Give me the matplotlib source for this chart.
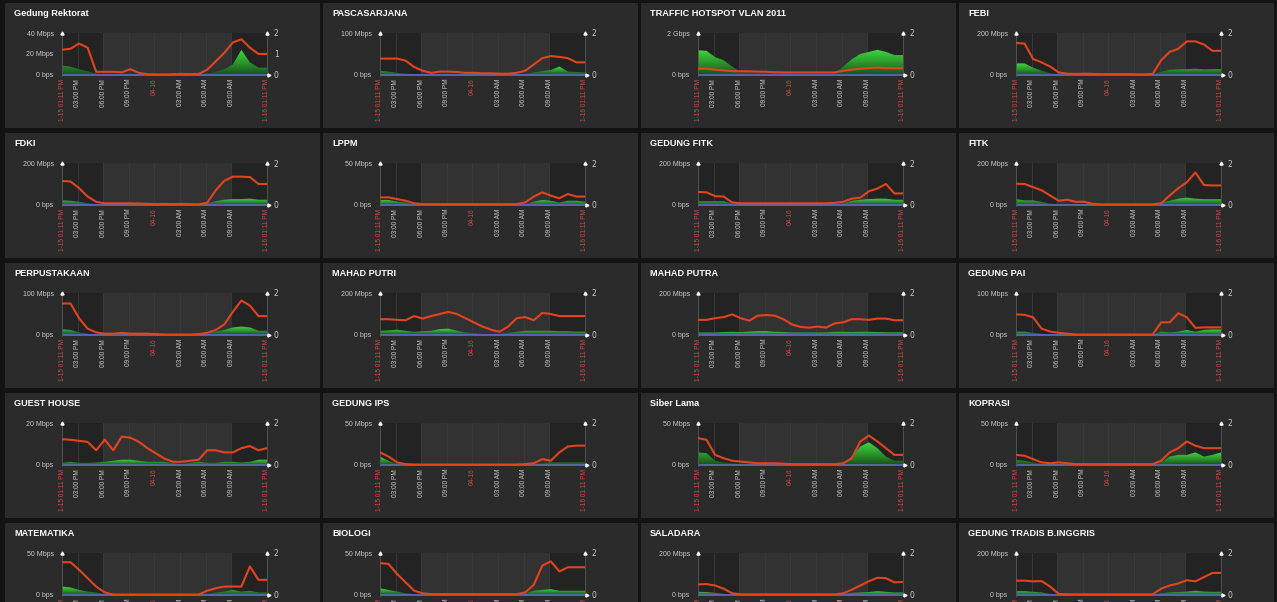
"""Bandwidth dashboard: 24 h in/out traffic per building, one small panel each."""

import matplotlib

matplotlib.use("Agg")
import matplotlib.pyplot as plt
import numpy as np
from matplotlib.colors import LinearSegmentedColormap
from matplotlib.patches import Rectangle

# --- Data (Mbps, one sample per hour from 1-15 01:11 PM to 1-16 01:11 PM) ---

HOURS = list(range(25))

TITLES = [
    "Gedung Rektorat", "PASCASARJANA", "TRAFFIC HOTSPOT VLAN 2011", "FEBI",
    "FDKI", "LPPM", "GEDUNG FITK", "FITK",
    "PERPUSTAKAAN", "MAHAD PUTRI", "MAHAD PUTRA", "GEDUNG PAI",
    "GUEST HOUSE", "GEDUNG IPS", "Siber Lama", "KOPRASI",
    "MATEMATIKA", "BIOLOGI", "SALADARA", "GEDUNG TRADIS B.INGGRIS",
]
Y_MAX = [40, 100, 2000, 200, 200, 50, 200, 200, 100, 200, 200, 100,
         20, 50, 50, 50, 50, 50, 200, 200]
Y_LABELS = [
    ["0 bps", "20 Mbps", "40 Mbps"], ["0 bps", "100 Mbps"], ["0 bps", "2 Gbps"],
    ["0 bps", "200 Mbps"], ["0 bps", "200 Mbps"], ["0 bps", "50 Mbps"],
    ["0 bps", "200 Mbps"], ["0 bps", "200 Mbps"], ["0 bps", "100 Mbps"],
    ["0 bps", "200 Mbps"], ["0 bps", "200 Mbps"], ["0 bps", "100 Mbps"],
    ["0 bps", "20 Mbps"], ["0 bps", "50 Mbps"], ["0 bps", "50 Mbps"],
    ["0 bps", "50 Mbps"], ["0 bps", "50 Mbps"], ["0 bps", "50 Mbps"],
    ["0 bps", "200 Mbps"], ["0 bps", "200 Mbps"],
]

REKTORAT_IN = [9, 8, 5.5, 3.5, 1.5, 1, 1, 0.8, 0.8, 0.5, 0.3, 0.3, 0.3, 0.3, 0.3, 0.3, 0.3, 1, 3, 5.5, 10, 24, 12, 7, 7]
REKTORAT_OUT = [24, 25, 30, 26, 3, 3, 3, 2.5, 5.5, 2, 0.7, 0.5, 0.5, 0.7, 1, 0.8, 1, 5, 13, 21, 31, 34, 26, 20, 20]
PASCA_IN = [10, 8, 5, 3, 2, 1, 1, 1, 1, 1, 1, 1, 1, 1, 1, 1, 1, 2, 6, 9, 12, 20, 8, 7, 6]
PASCA_OUT = [39, 39, 39, 34, 19, 10, 5, 8, 8, 7, 5, 5, 4, 4, 3, 3, 5, 10, 25, 40, 45, 43, 40, 30, 30]
HOTSPOT_IN = [1180, 1150, 850, 700, 400, 150, 130, 100, 120, 100, 80, 50, 50, 50, 50, 50, 80, 400, 750, 1000, 1100, 1200, 1100, 950, 950]
HOTSPOT_OUT = [300, 300, 250, 220, 180, 180, 170, 160, 150, 130, 120, 120, 120, 120, 120, 120, 120, 200, 250, 300, 330, 350, 330, 320, 320]
FEBI_IN = [55, 55, 35, 20, 8, 3, 2, 2, 2, 2, 2, 2, 2, 2, 2, 2, 3, 15, 25, 27, 28, 30, 27, 28, 28]
FEBI_OUT = [152, 150, 76, 60, 40, 12, 6, 5, 6, 5, 4, 4, 4, 4, 3, 3, 5, 70, 110, 125, 160, 160, 145, 115, 115]
FDKI_IN = [22, 20, 15, 8, 3, 2, 2, 2, 2, 2, 2, 2, 2, 2, 2, 2, 2, 8, 18, 25, 28, 28, 30, 25, 25]
FDKI_OUT = [114, 112, 80, 40, 15, 8, 8, 8, 8, 7, 5, 4, 5, 4, 5, 4, 3, 10, 70, 115, 135, 135, 133, 100, 100]
LPPM_IN = [6, 6, 4, 3, 1, 0.5, 0.5, 0.5, 0.5, 0.5, 0.5, 0.5, 0.5, 0.5, 0.5, 0.5, 0.5, 1, 4, 6, 5, 3, 5, 5, 4]
LPPM_OUT = [9, 9, 7, 5, 2, 1, 1, 1, 1, 1, 1, 1, 1, 1, 1, 1, 1, 3, 10, 15, 11, 8, 13, 10, 10]
GFITK_IN = [18, 18, 18, 18, 8, 4, 4, 4, 4, 4, 4, 4, 4, 4, 4, 4, 4, 8, 20, 25, 28, 30, 30, 25, 25]
GFITK_OUT = [62, 60, 42, 40, 12, 8, 8, 8, 8, 8, 8, 8, 8, 8, 8, 8, 10, 15, 30, 35, 65, 78, 100, 55, 55]
FITK_IN = [28, 22, 22, 15, 6, 3, 3, 3, 3, 3, 3, 3, 3, 3, 3, 3, 3, 10, 20, 30, 35, 30, 28, 28, 28]
FITK_OUT = [101, 100, 85, 70, 45, 20, 25, 15, 15, 5, 3, 3, 3, 3, 3, 3, 3, 8, 45, 80, 108, 155, 95, 93, 93]
PERPUS_IN = [14, 12, 6, 3, 1, 0.5, 0.5, 0.5, 0.5, 0.5, 0.5, 0.5, 0.5, 0.5, 0.5, 0.5, 0.5, 3, 8, 12, 18, 20, 18, 10, 10]
PERPUS_OUT = [75, 75, 40, 15, 6, 3, 3, 5, 3, 3, 3, 2, 1, 1, 1, 1, 2, 5, 12, 25, 55, 82, 70, 45, 45]
PUTRI_IN = [20, 22, 25, 20, 15, 18, 20, 28, 30, 20, 12, 8, 5, 3, 5, 10, 15, 20, 20, 20, 20, 18, 18, 16, 16]
PUTRI_OUT = [75, 75, 72, 70, 90, 78, 90, 100, 110, 100, 80, 60, 40, 25, 15, 40, 80, 85, 70, 105, 100, 90, 90, 90, 90]
PUTRA_IN = [12, 12, 12, 14, 15, 14, 16, 18, 18, 15, 14, 12, 12, 12, 12, 12, 15, 15, 14, 15, 15, 14, 13, 13, 13]
PUTRA_OUT = [72, 72, 80, 85, 98, 80, 68, 92, 95, 92, 75, 50, 38, 35, 40, 35, 55, 60, 75, 75, 72, 78, 78, 70, 70]
PAI_IN = [8, 8, 5, 3, 1, 0.5, 0.5, 0.5, 0.5, 0.5, 0.5, 0.5, 0.5, 0.5, 0.5, 0.5, 0.5, 8, 6, 8, 12, 8, 12, 13, 13]
PAI_OUT = [49, 48, 42, 15, 8, 5, 3, 1, 1, 1, 1, 1, 1, 1, 1, 1, 1, 30, 30, 52, 42, 17, 18, 18, 18]
GUEST_IN = [1, 1.5, 1, 1, 1.2, 1.5, 2, 2.5, 2.5, 2, 1.5, 1.5, 1.5, 0.8, 0.5, 1, 1.5, 1, 1, 1.5, 1.5, 1.2, 1.5, 2.5, 2.5]
GUEST_OUT = [12.3, 12, 11.5, 11, 7, 12, 7, 13.5, 13, 11, 8, 5.5, 3, 1.5, 1.5, 2, 2.5, 7, 7, 6, 6, 8, 9, 7, 8]
IPS_IN = [10, 5, 1, 0.5, 0.5, 0.5, 0.5, 0.5, 0.5, 0.5, 0.5, 0.5, 0.5, 0.5, 0.5, 0.5, 0.5, 0.5, 1, 2, 3, 3, 3, 3, 3]
IPS_OUT = [15, 10, 3, 1, 0.5, 0.5, 0.5, 0.5, 0.5, 0.5, 0.5, 0.5, 0.5, 0.5, 0.5, 0.5, 0.5, 1, 2, 7, 5, 15, 22, 23, 23]
SIBER_IN = [15, 14, 5, 3, 2, 1, 1, 1, 1, 1, 1, 1, 1, 1, 1, 1, 1, 2, 10, 22, 27, 20, 10, 5, 5]
SIBER_OUT = [32, 30, 12, 8, 5, 4, 3, 2, 2, 2, 1.5, 1, 1, 1, 1, 1, 1, 2, 8, 28, 35, 28, 20, 12, 12]
KOPRASI_IN = [6, 5, 3, 1.5, 0.5, 0.5, 0.5, 0.5, 0.5, 0.5, 0.5, 0.5, 0.5, 0.5, 0.5, 0.5, 0.5, 3, 10, 12, 12, 15, 10, 12, 15]
KOPRASI_OUT = [12, 11, 7, 3, 2, 3, 2, 1, 1, 1, 1, 1, 1, 1, 1, 1, 1, 5, 15, 20, 28, 23, 20, 20, 20]
MATEMATIKA_IN = [10, 9, 6, 4, 3, 1, 0.5, 0.5, 0.5, 0.5, 0.5, 0.5, 0.5, 0.5, 0.5, 0.5, 0.5, 1, 3, 4, 6, 4, 5, 3, 3]
MATEMATIKA_OUT = [39, 39, 30, 20, 10, 3, 0.5, 0.5, 0.5, 0.5, 0.5, 0.5, 0.5, 0.5, 0.5, 0.5, 0.5, 5, 8, 10, 10, 10, 34, 18, 18]
BIOLOGI_IN = [8, 6, 4, 2, 1, 0.5, 0.5, 0.5, 0.5, 0.5, 0.5, 0.5, 0.5, 0.5, 0.5, 0.5, 0.5, 2, 5, 6, 7, 5, 5, 5, 5]
BIOLOGI_OUT = [38, 37, 25, 15, 5, 2, 1, 1, 1, 1, 1, 1, 1, 1, 1, 1, 1, 3, 12, 35, 40, 28, 33, 33, 33]
SALADARA_IN = [15, 14, 10, 5, 2, 1, 1, 1, 1, 1, 1, 1, 1, 1, 1, 1, 1, 5, 10, 12, 14, 18, 15, 12, 12]
SALADARA_OUT = [50, 52, 45, 30, 8, 3, 3, 3, 3, 3, 3, 3, 3, 3, 3, 3, 3, 8, 25, 45, 65, 82, 80, 60, 62]
INGGRIS_IN = [18, 18, 15, 12, 5, 2, 2, 2, 2, 2, 2, 2, 2, 2, 2, 2, 2, 8, 12, 14, 16, 20, 16, 15, 15]
INGGRIS_OUT = [68, 68, 65, 66, 40, 5, 3, 3, 3, 3, 3, 3, 3, 3, 3, 3, 3, 30, 45, 55, 70, 65, 85, 105, 105]

INBOUND = [
    REKTORAT_IN, PASCA_IN, HOTSPOT_IN, FEBI_IN, FDKI_IN, LPPM_IN, GFITK_IN, FITK_IN,
    PERPUS_IN, PUTRI_IN, PUTRA_IN, PAI_IN, GUEST_IN, IPS_IN, SIBER_IN, KOPRASI_IN,
    MATEMATIKA_IN, BIOLOGI_IN, SALADARA_IN, INGGRIS_IN,
]
OUTBOUND = [
    REKTORAT_OUT, PASCA_OUT, HOTSPOT_OUT, FEBI_OUT, FDKI_OUT, LPPM_OUT, GFITK_OUT, FITK_OUT,
    PERPUS_OUT, PUTRI_OUT, PUTRA_OUT, PAI_OUT, GUEST_OUT, IPS_OUT, SIBER_OUT, KOPRASI_OUT,
    MATEMATIKA_OUT, BIOLOGI_OUT, SALADARA_OUT, INGGRIS_OUT,
]

# x ticks as clock times; offsets are hours after 13:11 on 1-15
TICK_LABELS = ["1-15 01:11 PM", "03:00 PM", "06:00 PM", "09:00 PM", "04-16",
               "03:00 AM", "06:00 AM", "09:00 AM", "1-16 01:11 PM"]
TICK_CLOCK = [13 + 11 / 60, 15, 18, 21, 24, 27, 30, 33, 37 + 11 / 60]
RED_TICKS = {0, 4, 8}
NIGHT = (18, 33)  # shaded from 06:00 PM to 09:00 AM

# --- Styling ----------------------------------------------------------------

W, H = 1277, 602
START = TICK_CLOCK[0]
FIG_BG = "#131313"
PANEL_BG = "#2b2b2b"
DAY_BG = "#232323"
NIGHT_BG = "#323232"
GRID = "#3b3b3b"
RED = "#e2451d"
BLUE = "#5b67b8"
LABEL = "#c9c9c9"
LABEL_RED = "#cf4a4a"
TITLE_FONT = ["Liberation Sans Narrow", "Liberation Sans", "DejaVu Sans"]
GREEN_CMAP = LinearSegmentedColormap.from_list("grn", ["#1b4f1b", "#2c9a2c", "#40d840"])


def fig_box(x: float, y: float, w: float, h: float) -> list[float]:
    """Pixel box (top-left origin) -> figure fraction rect."""
    return [x / W, 1 - (y + h) / H, w / W, h / H]


def draw_panel(fig, idx: int) -> None:
    row, col = divmod(idx, 4)
    x0 = 5 + 318 * col
    y0 = 3 + 130 * row
    ymax = Y_MAX[idx]

    fx, fy, fw, fh = fig_box(x0, y0, 315, 125)
    fig.add_artist(Rectangle((fx, fy), fw, fh, transform=fig.transFigure,
                             facecolor=PANEL_BG, edgecolor="none", zorder=-5))
    fig.text((x0 + 9) / W, 1 - (y0 + 11) / H, TITLES[idx], color="white",
             fontsize=6.6, fontweight="bold", family=TITLE_FONT, va="center", ha="left")

    ax = fig.add_axes(fig_box(x0 + 57, y0 + 30, 205, 43))
    ax.set_facecolor(DAY_BG)
    ax.axvspan(NIGHT[0] - START, NIGHT[1] - START, color=NIGHT_BG, zorder=0, lw=0)
    ticks = [t - START for t in TICK_CLOCK]
    for t in ticks:
        ax.axvline(t, color=GRID, lw=0.6, zorder=0.5)

    green = np.asarray(INBOUND[idx], dtype=float)
    poly = ax.fill_between(HOURS, green, 0, facecolor="none", edgecolor="none")
    grad = np.linspace(0, 1, 64).reshape(-1, 1)
    im = ax.imshow(grad, extent=[0, 24, 0, green.max()], origin="lower",
                   aspect="auto", cmap=GREEN_CMAP, zorder=2, interpolation="bilinear")
    im.set_clip_path(poly.get_paths()[0], transform=ax.transData)

    ax.axhline(0, color=BLUE, lw=1.3, zorder=2.5)
    ax.plot(HOURS, OUTBOUND[idx], color=RED, lw=1.5, zorder=3)

    ax.set_xlim(0, 24)
    ax.set_ylim(-0.025 * ymax, ymax)
    labels = Y_LABELS[idx]
    ax.set_yticks(np.linspace(0, ymax, len(labels)), labels)
    ax.set_xticks(ticks, TICK_LABELS, rotation=90)
    ax.tick_params(axis="y", length=0, pad=6, labelsize=5, labelcolor=LABEL)
    ax.tick_params(axis="x", length=0, pad=2, labelsize=4.7)
    for i, lab in enumerate(ax.get_xticklabels()):
        lab.set_color(LABEL_RED if i in RED_TICKS else LABEL)
    for lab in ax.get_xticklabels() + ax.get_yticklabels():
        lab.set_family(["Liberation Sans", "DejaVu Sans"])
    for side in ("top", "bottom"):
        ax.spines[side].set_visible(False)
    for side in ("left", "right"):
        ax.spines[side].set_color("#555555")
        ax.spines[side].set_linewidth(0.6)

    # little axis arrows
    ax.plot([0, 24], [ymax, ymax], ls="none", marker="^", ms=2.2, color="white",
            clip_on=False, zorder=5)
    ax.plot([24.25], [0], ls="none", marker=">", ms=2.2, color="white",
            clip_on=False, zorder=5)

    ax2 = ax.twinx()
    ax2.set_ylim(-0.05, 2)
    ax2.set_yticks([0, 1, 2] if idx == 0 else [0, 2])
    ax2.tick_params(axis="y", length=0, pad=5, labelsize=5.5, labelcolor=LABEL)
    for spine in ax2.spines.values():
        spine.set_visible(False)


def main() -> None:
    fig = plt.figure(figsize=(W / 100, H / 100), dpi=100, facecolor=FIG_BG)
    for idx in range(len(TITLES)):
        draw_panel(fig, idx)
    fig.savefig("out.png", dpi=100, facecolor=FIG_BG)
    plt.close(fig)


if __name__ == "__main__":
    main()
